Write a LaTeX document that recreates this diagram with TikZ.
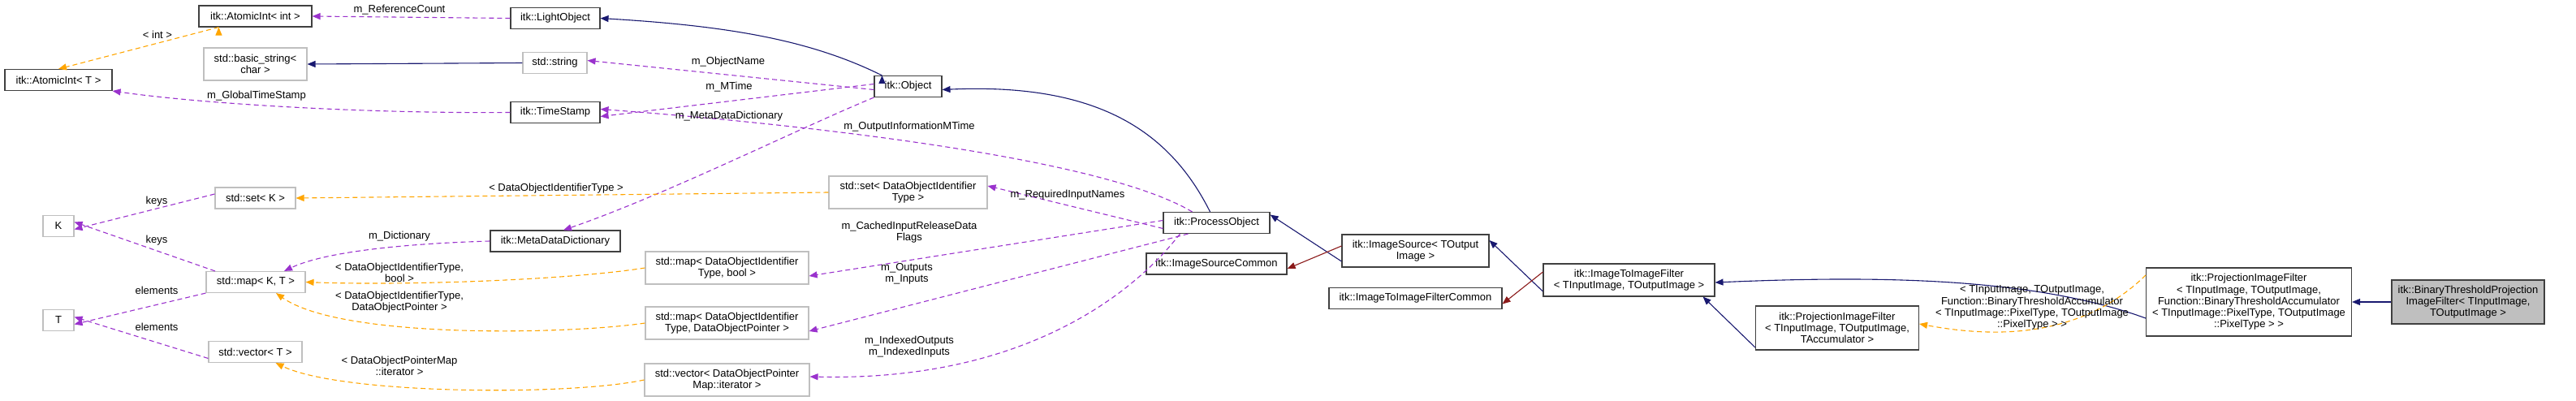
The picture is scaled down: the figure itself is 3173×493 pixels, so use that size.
\documentclass[tikz,border=0pt]{standalone}
\usepackage{fontspec}
\setmainfont{Liberation Sans}
\usetikzlibrary{arrows.meta}
\definecolor{inh}{HTML}{191970}
\definecolor{use}{HTML}{9A32CD}
\definecolor{tpl}{HTML}{FFA500}
\definecolor{prv}{HTML}{8B1A1A}
\begin{document}
\begin{tikzpicture}[x=1pt,y=-1pt,
  every node/.style={font=\fontsize{13}{14.3}\selectfont, align=center, inner sep=1pt},
  cls/.style={draw=black!75, line width=1.1pt, fill=white},
  ext/.style={draw=black!25, line width=1.1pt, fill=white},
  cur/.style={draw=black!75, line width=1.1pt, fill=black!25},
  lab/.style={fill=none, draw=none},
  tip/.style={-{Triangle[length=10pt,width=8pt]}},
  inhe/.style={tip, draw=inh, color=inh, line width=1.1pt},
  usee/.style={tip, draw=use, color=use, line width=1.1pt, dash pattern=on 6pt off 4pt},
  tple/.style={tip, draw=tpl, color=tpl, line width=1.1pt, dash pattern=on 6pt off 4pt},
  prve/.style={tip, draw=prv, color=prv, line width=1.1pt}]
\useasboundingbox (0,0) rectangle (3173,493);
% nodes
\node[cls, minimum width=139, minimum height=26] (aiint) at (314.5,20) {itk::AtomicInt< int >};
\node[cls, minimum width=110, minimum height=26] (lo) at (684,22.5) {itk::LightObject};
\node[cls, minimum width=132, minimum height=26] (ait) at (72,98.5) {itk::AtomicInt< T >};
\node[ext, minimum width=127, minimum height=40] (bs) at (314.5,79) {std::basic\_string<\\char >};
\node[ext, minimum width=79, minimum height=26] (str) at (683.5,77.5) {std::string};
\node[cls, minimum width=110, minimum height=26] (ts) at (684,138.5) {itk::TimeStamp};
\node[ext, minimum width=99, minimum height=26] (setk) at (314.5,244) {std::set< K >};
\node[ext, minimum width=38, minimum height=26] (k) at (72,278.5) {K};
\node[cls, minimum width=160, minimum height=26] (mdd) at (684,297) {itk::MetaDataDictionary};
\node[ext, minimum width=122, minimum height=26] (mapkt) at (315,347.5) {std::map< K, T >};
\node[ext, minimum width=38, minimum height=26] (t) at (72,394.5) {T};
\node[ext, minimum width=115, minimum height=26] (vect) at (314.5,433.5) {std::vector< T >};
\node[cls, minimum width=83, minimum height=26] (obj) at (1118.5,106.5) {itk::Object};
\node[ext, minimum width=195, minimum height=40] (setd) at (1118.5,237) {std::set< DataObjectIdentifier\\Type >};
\node[cls, minimum width=131, minimum height=26] (po) at (1498.5,274.5) {itk::ProcessObject};
\node[cls, minimum width=173, minimum height=26] (isc) at (1498.5,325) {itk::ImageSourceCommon};
\node[ext, minimum width=201, minimum height=40] (mapb) at (895.5,330) {std::map< DataObjectIdentifier\\Type, bool >};
\node[ext, minimum width=201, minimum height=40] (mapp) at (895.5,398) {std::map< DataObjectIdentifier\\Type, DataObjectPointer >};
\node[ext, minimum width=203, minimum height=40] (vecp) at (895.5,468) {std::vector< DataObjectPointer\\Map::iterator >};
\node[cls, minimum width=181, minimum height=40] (is) at (1743.5,309) {itk::ImageSource< TOutput\\Image >};
\node[cls, minimum width=213, minimum height=26] (itifc) at (1743.5,367.5) {itk::ImageToImageFilterCommon};
\node[cls, minimum width=211, minimum height=40] (itif) at (2006.5,345) {itk::ImageToImageFilter\\< TInputImage, TOutputImage >};
\node[cls, minimum width=201, minimum height=54] (pif3) at (2263,404) {itk::ProjectionImageFilter\\< TInputImage, TOutputImage,\\TAccumulator >};
\node[cls, minimum width=253, minimum height=84] (pif) at (2770,372) {itk::ProjectionImageFilter\\< TInputImage, TOutputImage,\\Function::BinaryThresholdAccumulator\\< TInputImage::PixelType, TOutputImage\\::PixelType > >};
\node[cur, minimum width=188, minimum height=54] (bin) at (3040,372) {itk::BinaryThresholdProjection\\ImageFilter< TInputImage,\\TOutputImage >};
% edges
\draw[usee] (lo.west) -- (aiint.east);
\node[lab] (l1) at (492,12) {m\_ReferenceCount};
\draw[tple] (aiint.south west) ++(25,0) coordinate (a2) ; \draw[tple] (a2) -- (ait.north);
\node[lab] (l2) at (194,43) {< int >};
\draw[inhe] (str.west) -- (bs.east);
\draw[usee] (ts.west) .. controls (450,140) and (250,128) .. (ait.south east);
\node[lab] (l3) at (316,118) {m\_GlobalTimeStamp};
\draw[inhe] (obj.north west) ++(10,0) coordinate (o1); \draw[inhe] (o1) .. controls (1000,50) and (900,32) .. (lo.east);
\draw[usee] ([yshift=-4]obj.west) -- ([yshift=3]str.east);
\node[lab] (l4) at (897,76) {m\_ObjectName};
\draw[usee] ([yshift=3]obj.west) -- ([yshift=-5]ts.east);
\node[lab] (l5) at (898,107) {m\_MTime};
\draw[usee] ([xshift=-30]po.north) .. controls (1350,190) and (950,150) .. ([yshift=4]ts.east);
\node[lab] (l6) at (1120,156) {m\_OutputInformationMTime};
\draw[usee] (obj.south west) .. controls (980,160) and (820,240) .. ([xshift=10]mdd.north);
\node[lab] (l7) at (898,143) {m\_MetaDataDictionary};
\draw[usee] (mdd.west) .. controls (500,300) and (400,310) .. ([xshift=35]mapkt.north);
\node[lab] (l8) at (492,291) {m\_Dictionary};
\draw[usee] ([yshift=5]setk.west) -- ([yshift=-4]k.east);
\node[lab] (l9) at (193,248) {keys};
\draw[usee] ([xshift=-50]mapkt.north) -- ([yshift=5]k.east);
\node[lab] (l10) at (193,296) {keys};
\draw[usee] (mapkt.south west) -- ([yshift=-5]t.east);
\node[lab] (l11) at (193,358) {elements};
\draw[usee] ([yshift=-8]vect.west) -- ([yshift=4]t.east);
\node[lab] (l12) at (193,403) {elements};
\draw[tple] (setd.west) -- (setk.east);
\node[lab] (l13) at (685,232) {< DataObjectIdentifierType >};
\draw[tple] (mapb.west) .. controls (700,345) and (500,352) .. (mapkt.east);
\node[lab] (l14) at (492,336) {< DataObjectIdentifierType,\\bool >};
\draw[tple] (mapp.west) .. controls (700,412) and (420,418) .. ([xshift=25]mapkt.south);
\node[lab] (l15) at (492,372) {< DataObjectIdentifierType,\\DataObjectPointer >};
\draw[tple] (vecp.west) .. controls (700,488) and (420,486) .. ([xshift=25]vect.south);
\node[lab] (l16) at (492,451) {< DataObjectPointerMap\\::iterator >};
\draw[inhe] ([xshift=-8]po.north) .. controls (1440,160) and (1350,102) .. ([yshift=-4]obj.east);
\draw[usee] ([yshift=-7]po.west) -- ([yshift=8]setd.east);
\node[lab] (l17) at (1315,240) {m\_RequiredInputNames};
\draw[usee] ([yshift=3]po.west) -- ([yshift=-10]mapb.east);
\node[lab] (l18) at (1120,286) {m\_CachedInputReleaseData\\Flags};
\draw[usee] ([xshift=-35]po.south) -- ([yshift=-10]mapp.east);
\node[lab] (l19) at (1117,337) {m\_Outputs\\m\_Inputs};
\draw[usee] ([xshift=-45]po.south) .. controls (1390,370) and (1250,470) .. ([yshift=4]vecp.east);
\node[lab] (l20) at (1120,427) {m\_IndexedOutputs\\m\_IndexedInputs};
\draw[inhe] ([yshift=-13]is.west) -- ([yshift=10]po.east);
\draw[prve] ([yshift=6]is.west) -- ([yshift=-6]isc.east);
\draw[inhe] ([yshift=-14]itif.west) -- ([yshift=13]is.east);
\draw[prve] ([yshift=10]itif.west) -- ([yshift=-7]itifc.east);
\draw[inhe] ([yshift=-20]pif.west) .. controls (2500,340) and (2300,340) .. ([yshift=-3]itif.east);
\draw[inhe] ([yshift=-24]pif3.west) -- ([xshift=-15]itif.south east);
\draw[tple] ([yshift=33]pif.west) .. controls (2560,420) and (2450,415) .. ([yshift=5]pif3.east);
\node[lab] (l21) at (2503,379) {< TInputImage, TOutputImage,\\Function::BinaryThresholdAccumulator\\< TInputImage::PixelType, TOutputImage\\::PixelType > >};
\draw[inhe] (bin.west) -- (pif.east);
\end{tikzpicture}
\end{document}
